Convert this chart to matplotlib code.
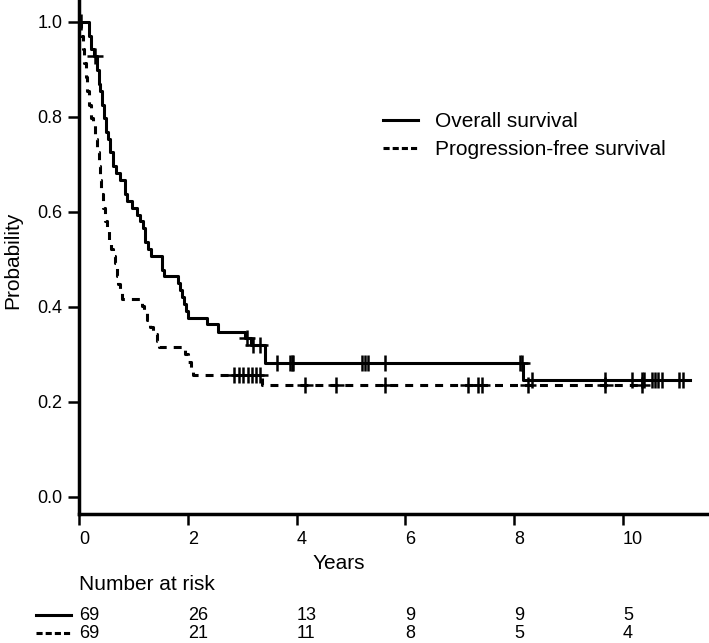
import numpy as np
import matplotlib
matplotlib.use("Agg")
import matplotlib.pyplot as plt
from matplotlib.lines import Line2D
import matplotlib.transforms as mtransforms

plt.rcParams['font.family'] = ['Liberation Sans', 'DejaVu Sans']

# Kaplan-Meier step data (time in years, survival after the step)
os_t = [0, 0.18, 0.22, 0.27, 0.33, 0.36, 0.39, 0.42, 0.46, 0.50, 0.53, 0.57, 0.62, 0.68,
        0.76, 0.85, 0.88, 0.97, 1.06, 1.13, 1.17, 1.22, 1.27, 1.33, 1.52, 1.56, 1.82,
        1.86, 1.90, 1.93, 1.97, 2.00, 2.35, 2.56, 3.05, 3.16, 3.42, 8.16]
os_s = [1.0, 0.971, 0.942, 0.928, 0.899, 0.870, 0.855, 0.826, 0.797, 0.768, 0.754, 0.725,
        0.696, 0.681, 0.667, 0.638, 0.623, 0.609, 0.594, 0.580, 0.565, 0.536, 0.522, 0.507,
        0.478, 0.464, 0.450, 0.435, 0.420, 0.406, 0.391, 0.377, 0.363, 0.348, 0.334, 0.320,
        0.282, 0.246]
os_end = 11.23
os_cens = [0.03, 0.30, 3.08, 3.20, 3.33, 3.64, 3.88, 3.91, 3.94, 5.20, 5.26, 5.32, 5.63,
           8.10, 8.14, 8.33, 9.67, 10.16, 10.34, 10.38, 10.53, 10.59, 10.65, 10.71, 11.02, 11.10]

pfs_t = [0, 0.04, 0.07, 0.10, 0.13, 0.15, 0.18, 0.22, 0.26, 0.29, 0.33, 0.36, 0.39, 0.41,
         0.44, 0.48, 0.52, 0.55, 0.58, 0.62, 0.66, 0.69, 0.71, 0.75, 0.79, 1.16, 1.20, 1.25,
         1.30, 1.36, 1.43, 1.47, 1.95, 2.00, 2.05, 2.10, 3.36]
pfs_s = [1.0, 0.971, 0.942, 0.913, 0.884, 0.855, 0.826, 0.797, 0.783, 0.754, 0.725, 0.696,
         0.667, 0.638, 0.609, 0.580, 0.565, 0.536, 0.522, 0.507, 0.493, 0.464, 0.449, 0.435,
         0.416, 0.401, 0.387, 0.372, 0.358, 0.343, 0.329, 0.315, 0.300, 0.285, 0.271, 0.256,
         0.236]
pfs_end = 10.4
pfs_cens = [2.85, 2.95, 3.02, 3.10, 3.18, 3.26, 3.32, 4.15, 4.72, 5.63, 7.15, 7.33, 7.40,
            8.25, 9.67, 10.35]

# number at risk table
risk_times = [0, 2, 4, 6, 8, 10]
os_risk = [69, 26, 13, 9, 9, 5]
pfs_risk = [69, 21, 11, 8, 5, 4]

FS_NUM = 13   # tick labels and counts
FS_TXT = 15   # words
LW = 2.2
DASH = (0, (2.6, 2.3))
DASH_SHORT = (0, (2.0, 1.0))

fig = plt.figure(figsize=(7.09, 6.43), dpi=100)
ax = fig.add_axes([79 / 709, 129 / 643, 630 / 709, 514 / 643])


def km_plot(t, s, end, cens, ls):
    tt = list(t) + [end]
    ss = list(s) + [s[-1]]
    ax.step(tt, ss, where='post', color='black', lw=LW, linestyle=ls)
    idx = np.searchsorted(t, cens, side='right') - 1
    ax.plot(cens, np.array(s)[idx], linestyle='none', marker='+', color='black',
            markersize=11, mew=1.8)


km_plot(os_t, os_s, os_end, os_cens, '-')
km_plot(pfs_t, pfs_s, pfs_end, pfs_cens, DASH)

ax.set_xlim(0, 11.58)
ax.set_ylim(-0.036, 1.046)
ax.set_xticks(risk_times)
ax.set_xticklabels([str(v) for v in risk_times], ha='left')
ax.set_yticks(np.arange(0, 1.01, 0.2))
ax.set_yticklabels([f"{v:.1f}" for v in np.arange(0, 1.01, 0.2)])
for side in ['top', 'right']:
    ax.spines[side].set_visible(False)
for side in ['left', 'bottom']:
    ax.spines[side].set_linewidth(2.5)
ax.tick_params(axis='both', direction='out', length=8, width=1.8, labelsize=FS_NUM, pad=4)

ax.set_xlabel('Years', fontsize=FS_TXT)
ax.xaxis.set_label_coords(0.413, -0.078)
ax.set_ylabel('Probability', fontsize=FS_TXT)
ax.yaxis.set_label_coords(-0.09, 0.494)

handles = [Line2D([], [], color='black', lw=LW, linestyle='-'),
           Line2D([], [], color='black', lw=LW, linestyle=DASH_SHORT)]
ax.legend(handles, ['Overall survival', 'Progression-free survival'], loc='upper left',
          bbox_to_anchor=(383 / 709, 0.826), bbox_transform=fig.transFigure,
          frameon=False, fontsize=FS_TXT, borderpad=0, borderaxespad=0,
          handlelength=1.68, handletextpad=0.82, labelspacing=0.45)

# number at risk
trans = mtransforms.blended_transform_factory(ax.transData, fig.transFigure)
ax.text(0, 1 - 585 / 643, 'Number at risk', transform=trans, fontsize=FS_TXT,
        ha='left', va='center', clip_on=False)
for y_px, counts, ls in [(615, os_risk, '-'), (633, pfs_risk, DASH_SHORT)]:
    y = 1 - y_px / 643
    for tx, n in zip(risk_times, counts):
        ax.text(tx, y, str(n), transform=trans, fontsize=FS_NUM, ha='left', va='center',
                clip_on=False)
    fig.add_artist(Line2D([36 / 709, 71 / 709], [y, y], transform=fig.transFigure,
                          color='black', lw=LW, linestyle=ls))

fig.savefig('out.png', dpi=100)
